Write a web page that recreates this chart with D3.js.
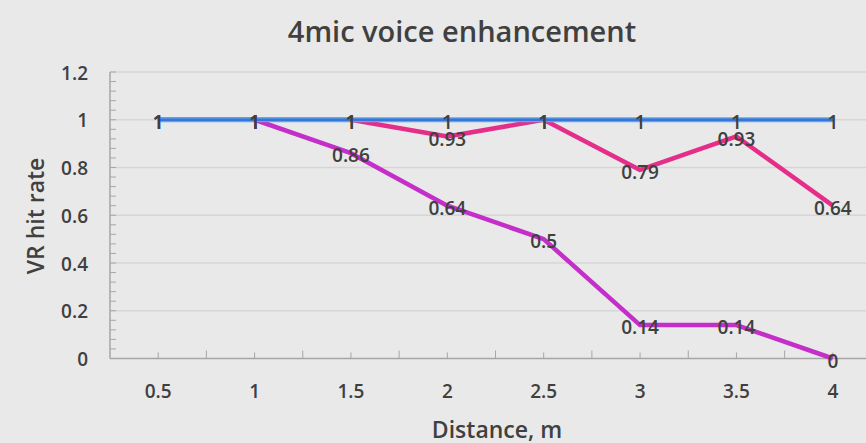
<!DOCTYPE html>
<html lang="en">
<head>
    <meta charset="UTF-8">
    <title>4mic voice enhancement</title>
    <script src="https://d3js.org/d3.v7.min.js"></script>
    <style>
        body { margin: 0; background: #e9e9e9; overflow: hidden; }
        svg { display: block; font-family: 'Open Sans', sans-serif; }
        .grid line { stroke: #d6d6d6; stroke-width: 1.5; }
        .tick-label { fill: #404040; font-size: 19px; font-weight: 600; }
        .axis-title { fill: #404040; font-size: 23px; font-weight: 600; }
        .title { fill: #404040; font-size: 29px; font-weight: 600; }
        .data-label { fill: #404040; font-size: 19px; font-weight: 600; }
    </style>
</head>
<body>
<svg width="866" height="443"></svg>
<script>
    // data
    const distances = [0.5, 1, 1.5, 2, 2.5, 3, 3.5, 4];
    const blueSeries = [1, 1, 1, 1, 1, 1, 1, 1];
    const pinkSeries = [1, 1, 1, 0.93, 1, 0.79, 0.93, 0.64];
    const purpleSeries = [1, 1, 0.86, 0.64, 0.5, 0.14, 0.14, 0];
    const yTicks = [0, 0.2, 0.4, 0.6, 0.8, 1, 1.2];

    const series = [
        { name: "purple", values: purpleSeries, color: "#c42fc9" },
        { name: "pink", values: pinkSeries, color: "#e52d8a" },
        { name: "blue", values: blueSeries, color: "#3b74d8" }
    ];

    const svg = d3.select("svg");
    // the plot area runs past the right edge of the picture (it is cropped there)
    const plotLeft = 110, plotRight = 881, plotTop = 72, plotBottom = 358.5;

    const x = d3.scaleLinear().domain([0.25, 4.25]).range([plotLeft, plotRight]);
    const y = d3.scaleLinear().domain([0, 1.2]).range([plotBottom, plotTop]);

    // gridlines
    svg.append("g").attr("class", "grid")
        .selectAll("line")
        .data(yTicks.filter(d => d > 0))
        .enter().append("line")
        .attr("x1", plotLeft).attr("x2", plotRight)
        .attr("y1", d => y(d)).attr("y2", d => y(d));

    // y axis with minor ticks
    const yAxis = svg.append("g");
    yAxis.append("line")
        .attr("x1", plotLeft).attr("x2", plotLeft)
        .attr("y1", y(1.2)).attr("y2", y(0))
        .attr("stroke", "#a6a6a6").attr("stroke-width", 1.5);
    yAxis.selectAll(".minor")
        .data(d3.range(0, 31).map(i => i * 0.04))
        .enter().append("line")
        .attr("x1", plotLeft).attr("x2", plotLeft + 6)
        .attr("y1", d => y(d)).attr("y2", d => y(d))
        .attr("stroke", "#a6a6a6").attr("stroke-width", 1);
    yAxis.selectAll("text")
        .data(yTicks)
        .enter().append("text")
        .attr("class", "tick-label")
        .attr("x", 88)
        .attr("y", d => y(d) + 1)
        .attr("dy", "0.35em")
        .attr("text-anchor", "end")
        .text(d => +d.toFixed(1));

    // x axis
    const xAxis = svg.append("g");
    xAxis.append("line")
        .attr("x1", plotLeft).attr("x2", plotRight)
        .attr("y1", y(0)).attr("y2", y(0))
        .attr("stroke", "#a6a6a6").attr("stroke-width", 1.5);
    xAxis.selectAll(".tk")
        .data(d3.range(0, 16).map(i => 0.5 + i * 0.25))
        .enter().append("line")
        .attr("x1", d => x(d)).attr("x2", d => x(d))
        .attr("y1", (d, i) => y(0) - (i % 2 ? 8 : 6)).attr("y2", y(0))
        .attr("stroke", "#a6a6a6").attr("stroke-width", 1);
    xAxis.selectAll("text")
        .data(distances)
        .enter().append("text")
        .attr("class", "tick-label")
        .attr("x", d => x(d))
        .attr("y", 391)
        .attr("dy", "0.35em")
        .attr("text-anchor", "middle")
        .text(d => d);

    // lines
    const line = d3.line()
        .x((d, i) => x(distances[i]))
        .y(d => y(d));

    series.forEach(s => {
        if (s.name === "blue") {
            svg.append("path")
                .attr("d", line(s.values))
                .attr("fill", "none")
                .attr("stroke", "#5aaae8")
                .attr("stroke-width", 5);
            svg.append("path")
                .attr("d", line(s.values))
                .attr("fill", "none")
                .attr("stroke", s.color)
                .attr("stroke-width", 2.5);
        } else {
            svg.append("path")
                .attr("d", line(s.values))
                .attr("fill", "none")
                .attr("stroke", s.color)
                .attr("stroke-width", 4.5)
                .attr("stroke-linejoin", "round");
        }
    });

    // data labels
    series.forEach(s => {
        svg.append("g").selectAll("text")
            .data(s.values)
            .enter().append("text")
            .attr("class", "data-label")
            .attr("x", (d, i) => x(distances[i]))
            .attr("y", d => y(d) + 2.5)
            .attr("dy", "0.35em")
            .attr("text-anchor", "middle")
            .text(d => d);
    });

    // titles
    svg.append("text").attr("class", "title")
        .attr("x", 462).attr("y", 32).attr("dy", "0.35em")
        .attr("text-anchor", "middle")
        .text("4mic voice enhancement");

    svg.append("text").attr("class", "axis-title")
        .attr("transform", "translate(36,216) rotate(-90)")
        .attr("dy", "0.35em")
        .attr("text-anchor", "middle")
        .text("VR hit rate");

    svg.append("text").attr("class", "axis-title")
        .attr("x", 497).attr("y", 430).attr("dy", "0.35em")
        .attr("text-anchor", "middle")
        .text("Distance, m");
</script>
</body>
</html>
